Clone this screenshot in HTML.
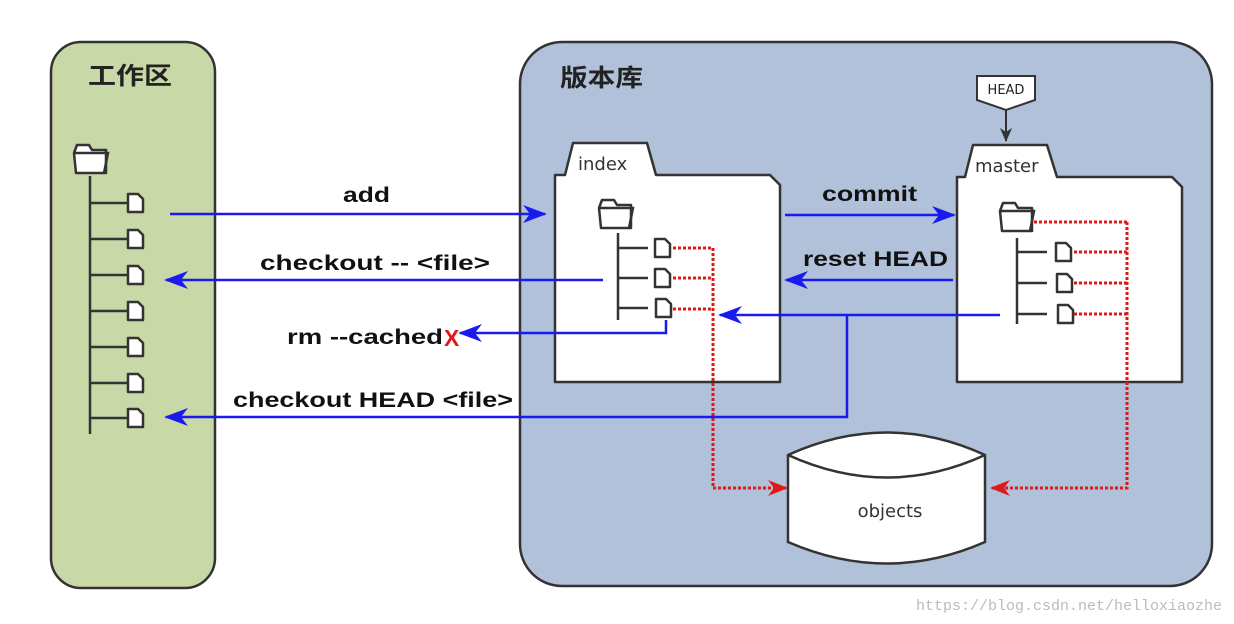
<!DOCTYPE html>
<html><head><meta charset="utf-8"><style>
html,body{margin:0;padding:0;background:#fff}
svg{display:block}
.b{font-family:"Liberation Sans","DejaVu Sans",sans-serif;font-weight:bold;font-size:21px;fill:#111}
.n{font-family:"DejaVu Sans","Liberation Sans",sans-serif;font-size:18px;fill:#333}
.cj{font-family:"Liberation Sans","Noto Sans CJK SC",sans-serif;font-weight:bold;font-size:24px;fill:#222}
</style></head><body>
<svg width="1234" height="624" viewBox="0 0 1234 624" xmlns="http://www.w3.org/2000/svg">
<defs>
<g id="file"><path d="M0,0 H10 L15,5 V18 H0 Z" fill="#fff" stroke="#333" stroke-width="2.5" stroke-linejoin="round"/></g>
<g id="fold"><path d="M3,0 H15 L18,5 H32 V28 H2 L0,8 Z" fill="#fff" stroke="#333" stroke-width="2.5" stroke-linejoin="round"/><path d="M0,8 H34 L30,28" fill="none" stroke="#333" stroke-width="2.5"/></g>
<marker id="ab" viewBox="0 0 24 18" refX="22" refY="9" markerWidth="24" markerHeight="18" markerUnits="userSpaceOnUse" orient="auto"><path d="M0,0 L24,9 L0,18 L7,9 Z" fill="#1a1aee"/></marker>
<marker id="ar" viewBox="0 0 20 16" refX="18" refY="8" markerWidth="20" markerHeight="16" markerUnits="userSpaceOnUse" orient="auto"><path d="M0,0 L20,8 L0,16 L6,8 Z" fill="#e01818"/></marker>
<marker id="ak" viewBox="0 0 14 12" refX="13" refY="6" markerWidth="14" markerHeight="12" markerUnits="userSpaceOnUse" orient="auto"><path d="M0,0 L14,6 L0,12 L4,6 Z" fill="#333"/></marker>
</defs>

<rect x="51" y="42" width="164" height="546" rx="30" fill="#c8d8a6" stroke="#333" stroke-width="2.5"/>
<rect x="520" y="42" width="692" height="544" rx="42" fill="#b0c1d9" stroke="#333" stroke-width="2.5"/>
<text x="88" y="84" class="cj" textLength="84" lengthAdjust="spacingAndGlyphs">工作区</text>
<text x="560" y="86" class="cj" textLength="83" lengthAdjust="spacingAndGlyphs">版本库</text>

<!-- left tree -->
<use href="#fold" x="74" y="145"/>
<path d="M90,176 V434" stroke="#333" stroke-width="2.5"/>
<g stroke="#333" stroke-width="2.5">
<path d="M90,203H128 M90,239H128 M90,275H128 M90,311H128 M90,347H128 M90,383H128 M90,418H128"/>
</g>
<use href="#file" x="128" y="194"/><use href="#file" x="128" y="230"/><use href="#file" x="128" y="266"/>
<use href="#file" x="128" y="302"/><use href="#file" x="128" y="338"/><use href="#file" x="128" y="374"/><use href="#file" x="128" y="409"/>

<!-- index -->
<path d="M555,382 V175 H565 L573,143 H647 L656,175 H770 L780,185 V382 Z" fill="#fff" stroke="#333" stroke-width="2.5" stroke-linejoin="round"/>
<text x="578" y="170" class="n">index</text>
<use href="#fold" x="599" y="200"/>
<path d="M618,233 V320 M618,248H648 M618,278H648 M618,308H648" stroke="#333" stroke-width="2.5"/>
<use href="#file" x="655" y="239"/><use href="#file" x="655" y="269"/><use href="#file" x="656" y="299"/>

<!-- master -->
<path d="M957,382 V177 H965 L973,145 H1047 L1057,177 H1172 L1182,187 V382 Z" fill="#fff" stroke="#333" stroke-width="2.5" stroke-linejoin="round"/>
<text x="975" y="172" class="n">master</text>
<path d="M977,76 H1035 V100 L1006,110 L977,100 Z" fill="#fff" stroke="#333" stroke-width="2"/>
<text x="1006" y="94" text-anchor="middle" style="font-family:'DejaVu Sans',sans-serif;font-size:13px;fill:#222">HEAD</text>
<path d="M1006,110 V141" stroke="#333" stroke-width="2" marker-end="url(#ak)"/>
<use href="#fold" x="1000" y="203"/>
<path d="M1017,238 V324 M1017,252H1047 M1017,283H1047 M1017,314H1047" stroke="#333" stroke-width="2.5"/>
<use href="#file" x="1056" y="243"/><use href="#file" x="1057" y="274"/><use href="#file" x="1058" y="305"/>

<!-- objects -->
<path d="M788,455 Q887,410 985,455 V542 Q887,585 788,542 Z" fill="#fff" stroke="#333" stroke-width="2.5"/>
<path d="M788,455 Q887,500 985,455" fill="none" stroke="#333" stroke-width="2.5"/>
<text x="890" y="517" text-anchor="middle" class="n">objects</text>

<!-- red dotted -->
<g stroke="#e01818" stroke-width="3" stroke-dasharray="3,2" fill="none">
<path d="M673,248 H713 M673,278 H713 M673,309 H713 M713,248 V488 H786" marker-end="url(#ar)"/>
<path d="M1034,222 H1127 M1074,252 H1127 M1074,283 H1127 M1074,314 H1127 M1127,222 V488 H992" marker-end="url(#ar)"/>
</g>

<!-- blue arrows -->
<g stroke="#1a1aee" stroke-width="2.5" fill="none">
<path d="M170,214 H545" marker-end="url(#ab)"/>
<path d="M603,280 H166" marker-end="url(#ab)"/>
<path d="M666,320 V333 H460" marker-end="url(#ab)"/>
<path d="M1000,315 H720" marker-end="url(#ab)"/>
<path d="M847,315 V417 H166" marker-end="url(#ab)"/>
<path d="M785,215 H954" marker-end="url(#ab)"/>
<path d="M953,280 H786" marker-end="url(#ab)"/>
</g>

<text x="343" y="202" class="b" textLength="47" lengthAdjust="spacingAndGlyphs">add</text>
<text x="260" y="270" class="b" textLength="230" lengthAdjust="spacingAndGlyphs">checkout -- &lt;file&gt;</text>
<text x="287" y="344" class="b" textLength="156" lengthAdjust="spacingAndGlyphs">rm --cached</text>
<text x="444" y="346" class="b" style="fill:#e01818;font-size:23px">X</text>
<text x="233" y="407" class="b" textLength="280" lengthAdjust="spacingAndGlyphs">checkout HEAD &lt;file&gt;</text>
<text x="822" y="201" class="b" textLength="95" lengthAdjust="spacingAndGlyphs">commit</text>
<text x="803" y="266" class="b" textLength="145" lengthAdjust="spacingAndGlyphs">reset HEAD</text>

<text x="1222" y="610" text-anchor="end" style="font-family:'Liberation Mono','DejaVu Sans Mono',monospace;font-size:15px;fill:#bbb">https://blog.csdn.net/helloxiaozhe</text>
</svg>
</body></html>
